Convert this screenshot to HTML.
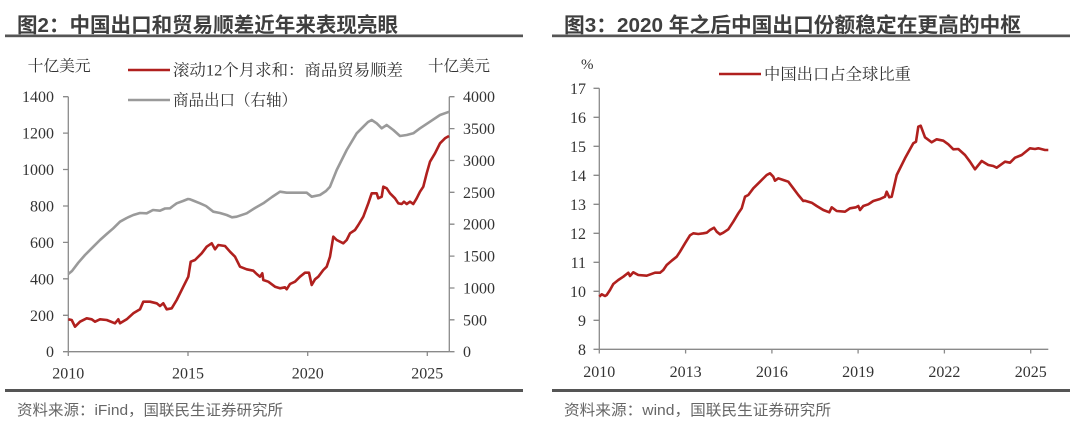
<!DOCTYPE html>
<html><head><meta charset="utf-8"><style>
html,body{margin:0;padding:0;background:#fff;}
svg{display:block;}
</style></head><body>
<svg width="1080" height="423" viewBox="0 0 1080 423" xmlns="http://www.w3.org/2000/svg">
<rect width="1080" height="423" fill="#fff"/>

<!-- Titles -->
<text x="17" y="32" font-family="Liberation Sans, Noto Sans CJK SC, sans-serif" font-weight="bold" font-size="20.5" fill="#3f3f3f" textLength="381" lengthAdjust="spacingAndGlyphs">图2：中国出口和贸易顺差近年来表现亮眼</text>
<text x="564" y="32" font-family="Liberation Sans, Noto Sans CJK SC, sans-serif" font-weight="bold" font-size="20.5" fill="#3f3f3f" textLength="457" lengthAdjust="spacingAndGlyphs">图3：2020 年之后中国出口份额稳定在更高的中枢</text>
<rect x="5" y="34.5" width="518" height="2.7" fill="#555"/>
<rect x="552" y="34.5" width="518" height="2.7" fill="#555"/>

<!-- Bottom rules & sources -->
<rect x="5" y="389" width="518" height="3" fill="#555"/>
<rect x="552" y="389" width="518" height="3" fill="#555"/>
<text x="17" y="415" font-family="Liberation Sans, Noto Sans CJK SC, sans-serif" font-size="15" fill="#666" textLength="266" lengthAdjust="spacingAndGlyphs">资料来源：iFind，国联民生证券研究所</text>
<text x="564" y="415" font-family="Liberation Sans, Noto Sans CJK SC, sans-serif" font-size="15" fill="#666" textLength="267" lengthAdjust="spacingAndGlyphs">资料来源：wind，国联民生证券研究所</text>

<!-- ================= LEFT CHART ================= -->
<g font-family="Liberation Serif, Noto Serif CJK SC, serif" fill="#333">
<text x="27.6" y="71" font-size="15.5" textLength="63" lengthAdjust="spacingAndGlyphs">十亿美元</text>
<text x="428" y="71" font-size="15.5" textLength="62" lengthAdjust="spacingAndGlyphs">十亿美元</text>
<text x="173" y="75.5" font-size="16" textLength="230" lengthAdjust="spacingAndGlyphs">滚动12个月求和：商品贸易顺差</text>
<text x="173" y="105.5" font-size="16" textLength="124" lengthAdjust="spacingAndGlyphs">商品出口（右轴）</text>
</g>
<line x1="128" y1="70" x2="170" y2="70" stroke="#B0201E" stroke-width="2.6"/>
<line x1="128" y1="100" x2="170" y2="100" stroke="#9a9a9a" stroke-width="2.6"/>

<g stroke="#8a8a8a" stroke-width="1.3" fill="none">
<line x1="68.3" y1="96.7" x2="68.3" y2="351.7"/>
<line x1="449.3" y1="96.7" x2="449.3" y2="351.7"/>
<line x1="68.3" y1="351.7" x2="449.3" y2="351.7"/>
<!-- left ticks -->
<path d="M63 351.7H68.3M63 315.3H68.3M63 278.8H68.3M63 242.4H68.3M63 206H68.3M63 169.5H68.3M63 133.1H68.3M63 96.7H68.3"/>
<!-- right ticks -->
<path d="M449.3 351.7H454.5M449.3 319.8H454.5M449.3 288H454.5M449.3 256.1H454.5M449.3 224.2H454.5M449.3 192.3H454.5M449.3 160.5H454.5M449.3 128.6H454.5M449.3 96.7H454.5"/>
<!-- x ticks -->
<path d="M68.3 351.7V356M188 351.7V356M307.7 351.7V356M427.3 351.7V356"/>
</g>

<g font-family="Liberation Serif, serif" font-size="16" fill="#333">
<g text-anchor="end">
<text x="54" y="357.2">0</text>
<text x="54" y="320.8">200</text>
<text x="54" y="284.3">400</text>
<text x="54" y="247.9">600</text>
<text x="54" y="211.5">800</text>
<text x="54" y="175">1000</text>
<text x="54" y="138.6">1200</text>
<text x="54" y="102.2">1400</text>
</g>
<g text-anchor="start">
<text x="463" y="357.2">0</text>
<text x="463" y="325.3">500</text>
<text x="463" y="293.5">1000</text>
<text x="463" y="261.6">1500</text>
<text x="463" y="229.7">2000</text>
<text x="463" y="197.8">2500</text>
<text x="463" y="166">3000</text>
<text x="463" y="134.1">3500</text>
<text x="463" y="102.2">4000</text>
</g>
<g text-anchor="middle">
<text x="68.3" y="378.5">2010</text>
<text x="188" y="378.5">2015</text>
<text x="307.7" y="378.5">2020</text>
<text x="427.3" y="378.5">2025</text>
</g>
</g>

<polyline fill="none" stroke="#9a9a9a" stroke-width="2.6" stroke-linejoin="round" points="68.3,274 72,271 78.3,262.7 85,255 93.3,246.7 100,240 106.7,234 113.3,228.3 120,221.7 126.7,218 133.3,215 140,213 146.7,213.3 153,210 160,210.7 165,208.5 170,208.3 173,206 176.7,203.3 183,201 188,199 190,199.3 193,200.5 200,203.3 206,206 213.3,211.7 220,213 226.7,215 232,217.3 236.7,216.7 246.7,213.3 255,208 263.3,203.3 272,197 280,191.7 286.7,192.7 300,192.7 306.7,192.7 311.7,196.7 320,195 326,191 330,186.7 336.7,170 346.7,150 356.7,133.3 363.3,126.7 368,122 371.7,120 376.7,123.3 381.7,128.3 386.7,125 393.3,130 400,136 406.7,135 413.3,133.3 420,128.3 430,121.7 440,115 449.3,111.7"/>

<polyline fill="none" stroke="#B0201E" stroke-width="2.6" stroke-linejoin="round" points="68.3,319.3 71.7,320 75,326.7 80,321.7 86.7,318.3 91.7,319.3 95,321.7 100,319.3 106.7,320 115,323.3 118.3,319.3 120,323.3 126.7,319.3 133.3,313.3 140,309.3 143.3,301.7 150,301.7 156.7,303.3 160,306 163.3,303.3 166.7,309.3 171.7,308.3 176.7,300 183.3,286.7 188.3,276.7 190.7,261.7 195,260 201.7,253.3 206.7,246.7 211.7,243.3 215,249.3 218.3,245 225,246 230,251.7 235,256.7 240,266.7 246.7,269.3 253.3,270.7 256.7,274 260,276.7 262.3,273.3 263.3,280 268.3,281.7 275,286.7 280,288.3 285,287.3 286.7,289.3 290,284 295,281.7 300,276.7 305,272.7 309,272.7 311.7,285 315,279.3 318.3,276.7 323.3,270 326.7,266.7 330,256.7 333.3,236.7 336.7,240 343.3,243.3 346.7,240 350,233.3 355,230 358.3,225 363.3,216.7 368.3,203.3 371.7,193.3 376.7,193.3 378.3,198.3 381.7,196.7 383.3,186.7 386.7,188.3 390,193.3 395,198.3 398.3,203.3 401.7,204 404,201.7 406.7,204 410,201.7 413.3,204 416.7,198.3 420,191.7 423.3,186.7 426.7,173.3 430,161.7 435,153.3 440,143.3 445,138.3 449,136"/>

<!-- ================= RIGHT CHART ================= -->
<text x="581" y="69" font-family="Liberation Serif, serif" font-size="15" fill="#333">%</text>
<line x1="719" y1="74" x2="761" y2="74" stroke="#B0201E" stroke-width="2.6"/>
<text x="764" y="79.5" font-family="Liberation Serif, Noto Serif CJK SC, serif" font-size="16" fill="#333" textLength="147" lengthAdjust="spacingAndGlyphs">中国出口占全球比重</text>

<g stroke="#8a8a8a" stroke-width="1.3" fill="none">
<line x1="599.3" y1="88.3" x2="599.3" y2="349.3"/>
<line x1="599.3" y1="349.3" x2="1048.3" y2="349.3"/>
<path d="M593.5 349.3H599.3M593.5 320.3H599.3M593.5 291.3H599.3M593.5 262.3H599.3M593.5 233.3H599.3M593.5 204.3H599.3M593.5 175.3H599.3M593.5 146.3H599.3M593.5 117.3H599.3M593.5 88.3H599.3"/>
<path d="M599.3 349.3V353.5M685.6 349.3V353.5M771.9 349.3V353.5M858.1 349.3V353.5M944.4 349.3V353.5M1030.7 349.3V353.5"/>
</g>

<g font-family="Liberation Serif, serif" font-size="16" fill="#333">
<g text-anchor="end">
<text x="586" y="354.8">8</text>
<text x="586" y="325.8">9</text>
<text x="586" y="296.8">10</text>
<text x="586" y="267.8">11</text>
<text x="586" y="238.8">12</text>
<text x="586" y="209.8">13</text>
<text x="586" y="180.8">14</text>
<text x="586" y="151.8">15</text>
<text x="586" y="122.8">16</text>
<text x="586" y="93.8">17</text>
</g>
<g text-anchor="middle">
<text x="599.3" y="377">2010</text>
<text x="685.6" y="377">2013</text>
<text x="771.9" y="377">2016</text>
<text x="858.1" y="377">2019</text>
<text x="944.4" y="377">2022</text>
<text x="1030.7" y="377">2025</text>
</g>
</g>

<polyline fill="none" stroke="#B0201E" stroke-width="2.6" stroke-linejoin="round" points="599.3,296.7 601.7,294.3 605,296 606.7,295 610,290 613.3,284 618.3,280 623.3,276.7 626.7,274 628.3,272.7 630,276 633.3,272.3 638.3,275 646.7,275.7 655,272.7 660,272.7 663.3,270 666.7,265 671.7,260.7 676.7,256.7 680,251.7 685,243.3 690,235.3 693.3,233.3 698.3,234 703.3,233.3 706.7,232.7 710,230 714,227.7 716.7,231.7 720,234.3 723.3,232.7 728.3,229.3 733.3,221.7 738.3,213.3 741.7,208.3 745,196.7 748.3,195 753.3,188.3 760,181.7 766.7,175 770,173.3 773.3,176.7 775,180.7 778.3,178.3 783.3,180 788.3,181.7 793.3,188.3 798.3,195 803.3,201 805,200.7 811.7,202.7 816.7,206 823.3,210 829.3,212.3 831.7,207.3 836.7,211 845,211.7 850,208.3 856,207.3 858.3,206 860,210 863.3,206 868.3,204.3 873.3,201 880,199 885,196.7 886.7,191.7 889.3,197.3 891.7,196.7 896.7,175 905,158.3 913.3,143.3 916,141.7 918.3,126.7 920.7,125.7 925,137.3 931.7,142.3 936.7,139.3 943.3,140.7 948.3,144.3 953.3,149.3 958.3,149 965,155 970,161.7 975,169.3 981.7,161 988.3,165 993.3,166 996.7,167.7 1005,161.7 1010,162.7 1015,157.7 1021.7,155 1030,148.3 1035,149 1038.3,148.3 1045,150 1048.3,150"/>
</svg>
</body></html>
